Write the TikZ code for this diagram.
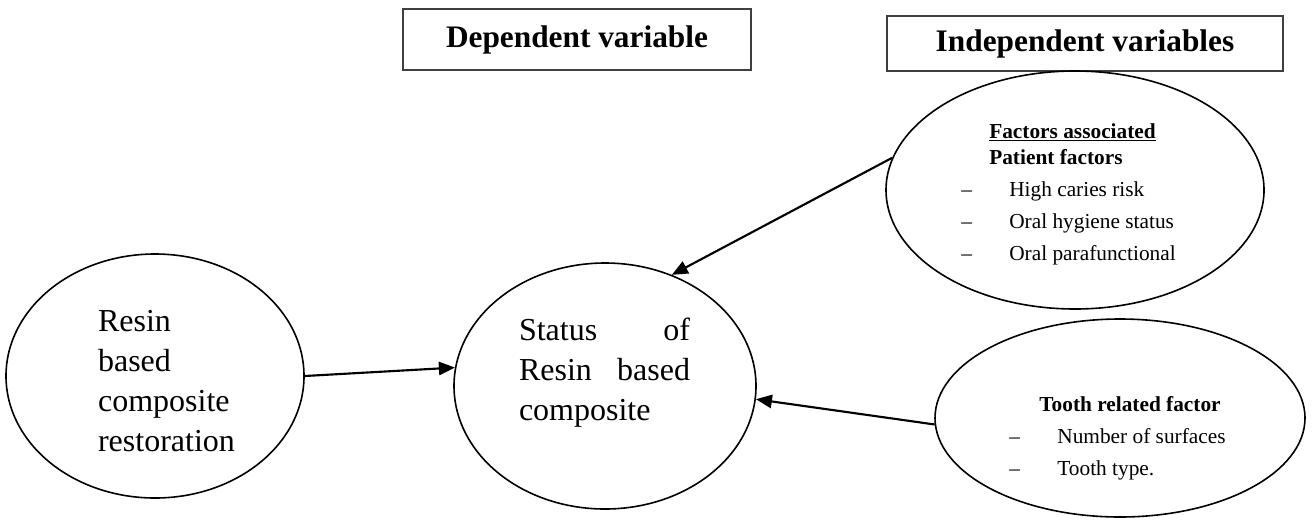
\documentclass[tikz,border=0pt]{standalone}
\usepackage{fontspec}
\setmainfont{Liberation Serif}
\usetikzlibrary{arrows.meta,shapes.geometric}
\newcommand{\dashitem}[1]{\makebox[36pt][l]{--}#1}

\begin{document}
\begin{tikzpicture}[x=0.75pt,y=-0.75pt,
  bubble/.style={ellipse,draw,line width=1.2pt,inner sep=0pt},
  hdr/.style={draw=black!75,line width=1pt,inner sep=0pt,font=\fontsize{23.5}{28}\selectfont\bfseries},
  conn/.style={-{Triangle[length=12pt,width=10pt]},line width=1.6pt},
  bigtxt/.style={inner sep=0pt,align=left,font=\fontsize{24}{30}\selectfont},
  smalltxt/.style={inner sep=0pt,align=left,font=\fontsize{16}{24}\selectfont}]
  \useasboundingbox (0,0) rectangle (1312,522);
  % headings
  \node[hdr,minimum width=261pt,minimum height=45.75pt] (dep) at (577,39.5) {Dependent variable};
  \node[hdr,minimum width=297pt,minimum height=41.25pt] (indep) at (1085,43.5) {Independent variables};
  % the four ellipses
  \node[bubble,minimum width=223.5pt,minimum height=183pt] (resin) at (155,376) {};
  \node[bubble,minimum width=226.5pt,minimum height=184.5pt] (status) at (605,386) {};
  \node[bubble,minimum width=283.5pt,minimum height=178.5pt] (patient) at (1075,190) {};
  \node[bubble,minimum width=277.5pt,minimum height=148.5pt] (tooth) at (1120,418) {};
  % texts inside them
  \node[bigtxt] (resintxt) at (166.5,381.5) {Resin\\based\\composite\\restoration};
  \node[bigtxt,text width=128.25pt] (statustxt) at (604.5,372.5) {Status \hfill of\\Resin \hfill based\\composite};
  \node[smalltxt] (patienttxt) at (1068.5,194) {\hspace*{21pt}\underline{\textbf{Factors associated}}\\[-4.5pt]
    \hspace*{21pt}\textbf{Patient factors}\\
    \dashitem{High caries risk}\\
    \dashitem{Oral hygiene status}\\
    \dashitem{Oral parafunctional}};
  \node[smalltxt] (toothtxt) at (1117.5,438) {\hspace*{22.5pt}\textbf{Tooth related factor}\\
    \dashitem{Number of surfaces}\\
    \dashitem{Tooth type.}};
  % arrows
  \draw[conn] (resin.east) -- (status.173);
  \draw[conn] (patient.170) -- (status.59);
  \draw[conn] (tooth.182) -- (status.-5);
\end{tikzpicture}
\end{document}
